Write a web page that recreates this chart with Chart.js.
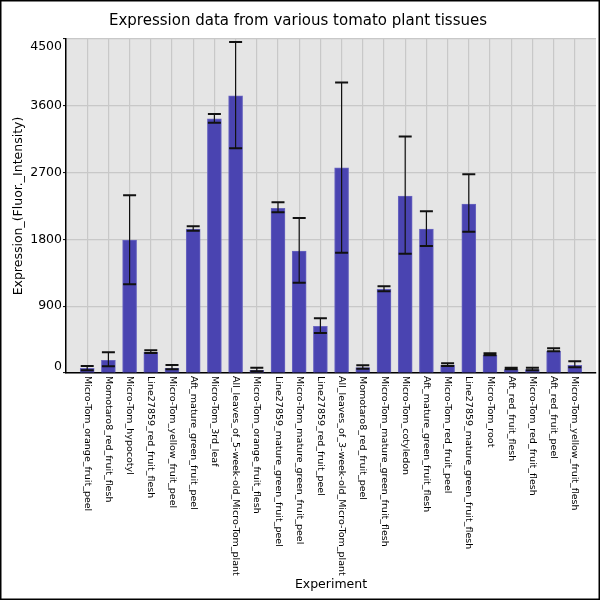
<!DOCTYPE html>
<html>
<head>
<meta charset="utf-8">
<title>Expression data</title>
<script src="https://cdn.jsdelivr.net/npm/chart.js@4.4.1/dist/chart.umd.min.js"></script>
<style>
  html, body { margin: 0; padding: 0; background: #fff; }
  #wrap { width: 600px; height: 600px; }
</style>
</head>
<body>
<div id="wrap"><canvas id="chart" width="600" height="600"></canvas></div>
<script>
const categories = [
  'Micro-Tom_orange_fruit_peel',
  'Momotaro8_red_fruit_flesh',
  'Micro-Tom_hypocotyl',
  'Line27859_red_fruit_flesh',
  'Micro-Tom_yellow_fruit_peel',
  'Aft_mature_green_fruit_peel',
  'Micro-Tom_3rd_leaf',
  'All_leaves_of_5-week-old_Micro-Tom_plant',
  'Micro-Tom_orange_fruit_flesh',
  'Line27859_mature_green_fruit_peel',
  'Micro-Tom_mature_green_fruit_peel',
  'Line27859_red_fruit_peel',
  'All_leaves_of_3-week-old_Micro-Tom_plant',
  'Momotaro8_red_fruit_peel',
  'Micro-Tom_mature_green_fruit_flesh',
  'Micro-Tom_cotyledon',
  'Aft_mature_green_fruit_flesh',
  'Micro-Tom_red_fruit_peel',
  'Line27859_mature_green_fruit_flesh',
  'Micro-Tom_root',
  'Aft_red_fruit_flesh',
  'Micro-Tom_red_fruit_flesh',
  'Aft_red_fruit_peel',
  'Micro-Tom_yellow_fruit_flesh'
];

const values  = [63, 171, 1791, 279, 63, 1940, 3425, 3735, 36, 2219, 1643, 630,
                 2763, 72, 1130, 2385, 1940, 104, 2277, 239, 45, 45, 292, 104];
const errLow  = [36, 90, 1197, 270, 50, 1917, 3370, 3029, 22, 2165, 1215, 540,
                 1620, 58, 1103, 1607, 1710, 95, 1904, 239, 50, 36, 292, 77];
const errHigh = [94, 279, 2394, 306, 108, 1976, 3488, 4460, 72, 2300, 2088, 738,
                 3915, 104, 1170, 3186, 2178, 130, 2678, 266, 72, 72, 333, 158];

const yTicks = [0, 900, 1800, 2700, 3600, 4500];

const FONT = '"DejaVu Sans", sans-serif';

// grey plot background + outer frame
const frame = {
  id: 'frame',
  beforeDraw(chart) {
    const { ctx, chartArea: a } = chart;
    ctx.save();
    ctx.fillStyle = '#e5e5e5';
    ctx.fillRect(a.left, a.top, a.right - a.left, a.bottom - a.top);
    ctx.restore();
  },
  afterDraw(chart) {
    const ctx = chart.ctx;
    ctx.save();
    ctx.strokeStyle = '#000';
    ctx.lineWidth = 1.5;
    ctx.strokeRect(0.75, 0.75, chart.width - 1.5, chart.height - 1.5);
    ctx.restore();
  }
};

// error bars
const errorBars = {
  id: 'errorBars',
  afterDatasetsDraw(chart) {
    const { ctx, scales: { x, y } } = chart;
    ctx.save();
    ctx.strokeStyle = '#111';
    categories.forEach((c, i) => {
      const px = x.getPixelForValue(i);
      const lo = y.getPixelForValue(errLow[i]);
      const hi = y.getPixelForValue(errHigh[i]);
      ctx.lineWidth = 1.2;
      ctx.beginPath();
      ctx.moveTo(px, hi);
      ctx.lineTo(px, lo);
      ctx.stroke();
      ctx.lineWidth = 2;
      ctx.beginPath();
      ctx.moveTo(px - 6.5, hi); ctx.lineTo(px + 6.5, hi);
      ctx.moveTo(px - 6.5, lo); ctx.lineTo(px + 6.5, lo);
      ctx.stroke();
    });
    ctx.restore();
  }
};

// tick labels: x labels read top-down, y end labels tucked inside the axis
const tickLabels = {
  id: 'tickLabels',
  afterDraw(chart) {
    const { ctx, scales: { x, y } } = chart;
    ctx.save();
    ctx.fillStyle = '#000';
    ctx.font = '9.5px ' + FONT;
    ctx.textAlign = 'left';
    ctx.textBaseline = 'middle';
    categories.forEach((c, i) => {
      ctx.save();
      ctx.translate(x.getPixelForValue(i), x.top + 3);
      ctx.rotate(Math.PI / 2);
      ctx.fillText(c, 0, 0);
      ctx.restore();
    });

    ctx.font = '12.5px ' + FONT;
    ctx.textAlign = 'right';
    yTicks.forEach(v => {
      let py = y.getPixelForValue(v);
      if (v === yTicks[yTicks.length - 1]) py += 8;
      if (v === 0) py -= 6;
      ctx.fillText(String(v), y.right - 4, py);
    });
    ctx.restore();
  }
};

new Chart(document.getElementById('chart'), {
  type: 'bar',
  data: {
    datasets: [{
      data: categories.map((c, i) => ({ x: i, y: values[i] })),
      backgroundColor: '#4a44b1',
      borderColor: '#6a66c0',
      borderWidth: 1,
      barThickness: 14
    }]
  },
  options: {
    responsive: false,
    animation: false,
    layout: { padding: { left: 0, right: 4, top: 0, bottom: 0 } },
    plugins: {
      legend: { display: false },
      tooltip: { enabled: false },
      title: {
        display: true,
        text: 'Expression data from various tomato plant tissues',
        color: '#000',
        font: { family: FONT, size: 15, weight: 'normal', lineHeight: 1.2 },
        padding: { top: 12, bottom: 9 }
      }
    },
    scales: {
      x: {
        type: 'linear',
        offset: false,
        min: -1,
        max: categories.length,
        afterFit(scale) { scale.height = 227; },
        ticks: { stepSize: 1, display: false },
        grid: {
          offset: false,
          color: ctx => (ctx.tick && ctx.tick.value >= 0 && ctx.tick.value < categories.length) ? '#c8c8c8' : 'rgba(0,0,0,0)',
          lineWidth: 1.2,
          drawTicks: false
        },
        border: { display: true, color: '#000', width: 1.5 },
        title: {
          display: true,
          text: 'Experiment',
          color: '#000',
          font: { family: FONT, size: 12.5 },
          padding: { top: 0, bottom: 8 }
        }
      },
      y: {
        min: 0,
        max: 4500,
        afterFit(scale) { scale.width = 66; },
        afterBuildTicks(scale) { scale.ticks = yTicks.map(v => ({ value: v })); },
        ticks: { display: false },
        grid: {
          color: '#c8c8c8',
          lineWidth: 1.2,
          tickColor: '#000',
          tickLength: 3,
          tickWidth: 1
        },
        border: { display: true, color: '#000', width: 1.5 },
        title: {
          display: true,
          text: 'Expression_(Fluor._Intensity)',
          color: '#000',
          font: { family: FONT, size: 12.5 },
          padding: { top: 11, bottom: 0 }
        }
      }
    }
  },
  plugins: [frame, errorBars, tickLabels]
});
</script>
</body>
</html>
